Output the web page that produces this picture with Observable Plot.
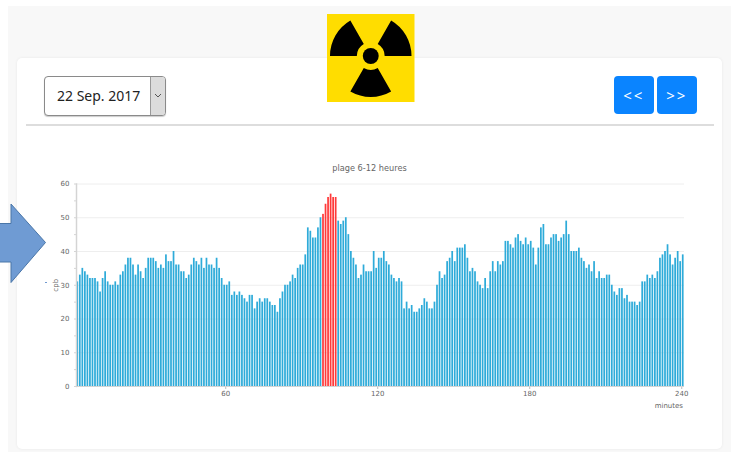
<!DOCTYPE html>
<html>
<head>
<meta charset="utf-8">
<script src="https://cdn.jsdelivr.net/npm/d3@7"></script>
<script src="https://cdn.jsdelivr.net/npm/@observablehq/plot@0.6"></script>
<style>
html,body{margin:0;padding:0;width:731px;height:452px;overflow:hidden;background:#fff;}
#bg{position:absolute;left:8px;top:6px;width:723px;height:446px;background:#f8f8f8;}
#card{position:absolute;left:17px;top:58px;width:705px;height:391px;background:#fff;border-radius:5px;box-shadow:0 0 3px rgba(0,0,0,.07);}
#select{position:absolute;left:44px;top:76px;width:120px;height:38px;border:1px solid #8a8a8a;border-radius:4px;background:#fff;box-shadow:0 1px 1px rgba(0,0,0,.2);font:14px "Noto Sans",sans-serif;color:#222;}
#select .t{position:absolute;left:12px;top:0;line-height:38px;white-space:nowrap;}
#select .s{position:absolute;right:0;top:0;width:14px;height:38px;background:#dcdcdc;border-left:1px solid #999;border-radius:0 3px 3px 0;}
#select svg{position:absolute;left:3px;top:16px;}
.btn{position:absolute;top:76px;width:39.5px;height:38px;background:#0a84ff;border-radius:4px;color:#fff;font:15px "Noto Sans",sans-serif;text-align:center;line-height:38px;letter-spacing:2px;}
#rule{position:absolute;left:26px;top:124px;width:688px;height:1.5px;background:#ddd;}
#title{position:absolute;left:17px;top:163px;width:705px;text-align:center;font:8.2px "DejaVu Sans",sans-serif;color:#666;}
#chart{position:absolute;left:17px;top:170px;}
#chart svg{overflow:visible;background:transparent;font-family:"DejaVu Sans",sans-serif;}
#icon{position:absolute;left:327px;top:14px;}
#arrow{position:absolute;left:0;top:200px;}
#mark{position:absolute;left:45px;top:282px;width:2px;height:1px;background:#7099cf;}
</style>
</head>
<body>
<div id="bg"></div>
<div id="card"></div>
<svg id="icon" width="87.5" height="88" viewBox="0 0 88 88" preserveAspectRatio="none">
  <rect width="88" height="88" fill="#ffdd00"/>
  <path d="M3 42A41 41 0 0 1 23.5 6.5L37 29.9A14 14 0 0 0 30 42Z" fill="#000"/>
  <path d="M85 42A41 41 0 0 0 64.5 6.5L51 29.9A14 14 0 0 1 58 42Z" fill="#000"/>
  <path d="M23.5 77.5A41 41 0 0 0 64.5 77.5L51 54.1A14 14 0 0 1 37 54.1Z" fill="#000"/>
  <circle cx="44" cy="42" r="8" fill="#000"/>
</svg>
<svg id="arrow" width="48" height="86" viewBox="0 0 48 86">
  <path d="M-2 23.5H11V4L45.5 42.5L11 82.5V62H-2Z" fill="#6f9bd3" stroke="#4a76a8" stroke-width="1"/>
</svg>
<div id="mark"></div>
<div id="select"><div class="t">22 Sep. 2017</div><div class="s"><svg width="8" height="6" viewBox="0 0 8 6"><path d="M1 1L4 4L7 1" fill="none" stroke="#555" stroke-width="1"/></svg></div></div>
<div class="btn" style="left:614px">&lt;&lt;</div>
<div class="btn" style="left:657px">&gt;&gt;</div>
<div id="rule"></div>
<div id="title">plage 6-12 heures</div>
<div id="chart"></div>
<script>
const minutes = d3.range(1, 241);
const alertMinutes = [98, 99, 100, 101, 102, 103];
const xTicks = [60, 120, 180, 240];
const yTicks = [0, 5, 10, 15, 20, 25, 30, 35, 40, 45, 50, 55, 60];
const gridValues = [10, 20, 30, 40, 50, 60];
const values = [
  31,33,35,34,33,32,32,32,31,28,32,34,31,30,30,31,30,33,34,36,
  38,38,36,33,36,34,32,35,38,38,38,37,35,36,35,39,37,37,40,36,
  36,34,34,32,33,36,38,37,36,38,35,38,36,36,35,38,35,32,30,30,
  31,27,28,27,28,27,26,25,27,27,23,25,26,25,26,26,25,24,24,22,
  26,28,30,30,31,33,32,35,36,36,39,47,46,44,44,47,50,51,54,56,
  57,56,56,49,48,49,50,45,40,38,36,32,33,36,34,34,34,40,35,38,
  38,40,37,36,33,32,31,32,31,23,25,23,24,22,22,23,24,26,25,23,
  23,25,30,34,32,33,37,38,40,37,41,41,41,42,38,34,35,34,31,30,
  29,32,29,34,37,34,37,36,37,43,43,42,41,44,45,43,42,44,42,43,
  41,36,41,47,48,42,42,44,45,45,43,44,45,49,45,40,40,40,41,38,
  37,35,36,34,37,32,34,32,32,33,33,30,28,27,29,29,26,27,25,25,
  25,24,25,31,31,33,32,33,32,34,38,39,40,42,39,36,38,40,37,39
];
const normalColor = "#2eabd9";
const alertColor = "#ff3a3a";
const axisColor = "#d4d4d4";
const textColor = "#666";

const chart = Plot.plot({
  width: 705,
  height: 250,
  marginLeft: 59,
  marginRight: 38,
  marginTop: 13.5,
  marginBottom: 34,
  style: {background: "transparent", fontSize: "7px"},
  x: {type: "band", domain: minutes, paddingInner: 0.32, paddingOuter: 0.16, round: false},
  y: {domain: [0, 60]},
  marks: [
    Plot.ruleY(gridValues, {stroke: "#eeeeee", strokeWidth: 1}),
    Plot.barY(minutes, {
      x: d => d,
      y: (d, i) => values[i],
      fill: d => alertMinutes.includes(d) ? alertColor : normalColor
    }),
    Plot.axisY({
      ticks: yTicks,
      tickSize: 2,
      tickPadding: 5,
      stroke: axisColor,
      fill: textColor,
      tickFormat: d => d % 10 ? "" : String(d),
      label: "cpb",
      labelAnchor: "center",
      labelArrow: "none",
      labelOffset: 23
    }),
    Plot.axisX({
      ticks: xTicks,
      tickSize: 3,
      tickPadding: 2,
      dx: -1.5,
      stroke: "#bbb",
      fill: textColor,
      tickFormat: d => String(d),
      label: null
    }),
    Plot.text(["minutes"], {frameAnchor: "bottom-right", dx: -1.5, dy: 21, fill: textColor}),
    Plot.ruleY([0], {stroke: axisColor, strokeWidth: 1}),
    Plot.frame({anchor: "left", stroke: axisColor, strokeWidth: 1.5})
  ]
});
document.getElementById("chart").appendChild(chart);
</script>
</body>
</html>
